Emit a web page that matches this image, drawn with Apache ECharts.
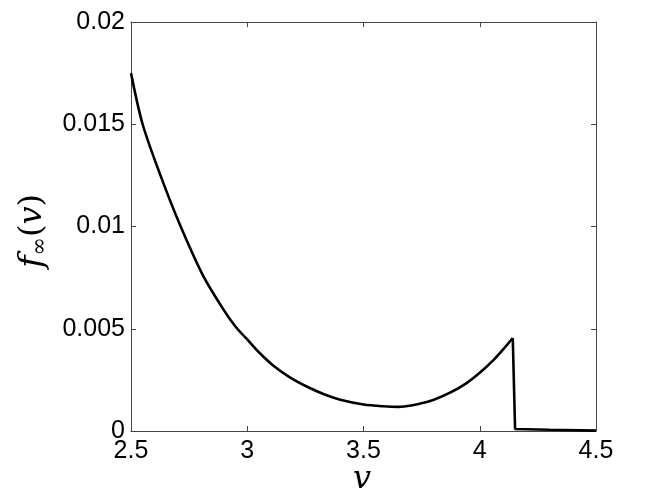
<!DOCTYPE html>
<html>
<head>
<meta charset="utf-8">
<script src="https://cdn.jsdelivr.net/npm/echarts@6/dist/echarts.min.js"></script>
<style>
html,body{margin:0;padding:0;background:#fff;}
#c{width:654px;height:502px;}
</style>
</head>
<body>
<div id="c"></div>
<script>
// branch 1: v from 2.5 to 3.0
const v1 = [2.50, 2.55, 2.63, 2.71, 2.81, 2.90, 2.95, 3.00];
const f1 = [0.0175, 0.0150, 0.0124, 0.0101, 0.0076, 0.0059, 0.0051, 0.00448];
// branch 2: v from 3.0 to the peak
const v2 = [3.00, 3.05, 3.11, 3.18, 3.26, 3.33, 3.40, 3.50, 3.585, 3.65, 3.74, 3.80, 3.87, 3.94, 4.00, 4.06, 4.10, 4.142];
const f2 = [0.00448, 0.00385, 0.00322, 0.00265, 0.00215, 0.0018, 0.00153, 0.00130, 0.00121, 0.00118, 0.00133, 0.00152, 0.00186, 0.00232, 0.00285, 0.00348, 0.00398, 0.00455];
// branch 3: drop and tail
const v3 = [4.142, 4.152, 4.30, 4.50];
const f3 = [0.00455, 0.0001, 0.00006, 0.00002];
const xTicks = ['2.5', '3', '3.5', '4', '4.5'];
const yTicks = ['0', '0.005', '0.01', '0.015', '0.02'];

const pairs = (vs, fs) => vs.map((v, i) => [v, fs[i]]);
const font = 'Liberation Sans, Arial, sans-serif';
const axisCol = '#444';
const chart = echarts.init(document.getElementById('c'));
const baseX = {
  type: 'value', min: 2.5, max: 4.5, interval: 0.5,
  axisLine: {show: true, onZero: false, lineStyle: {color: axisCol, width: 1}},
  axisTick: {show: true, inside: true, length: 5, lineStyle: {color: axisCol}},
  splitLine: {show: false}
};
const baseY = {
  type: 'value', min: 0, max: 0.02, interval: 0.005,
  axisLine: {show: true, onZero: false, lineStyle: {color: axisCol, width: 1}},
  axisTick: {show: true, inside: true, length: 5, lineStyle: {color: axisCol}},
  splitLine: {show: false}
};
const lineSeries = (d, smooth) => ({
  type: 'line', data: d, smooth: smooth, showSymbol: false, symbol: 'none',
  lineStyle: {color: '#000', width: 2.6}, xAxisIndex: 0, yAxisIndex: 0
});
chart.setOption({
  animation: false,
  backgroundColor: '#fff',
  grid: {left: 131, top: 22, right: 58, bottom: 71, containLabel: false},
  xAxis: [
    Object.assign({}, baseX, {position: 'bottom',
      axisLabel: {show: true, color: '#000', fontSize: 25, fontFamily: font, margin: 8,
        formatter: v => xTicks[Math.round((v - 2.5) / 0.5)]}}),
    Object.assign({}, baseX, {position: 'top', axisLabel: {show: false}})
  ],
  yAxis: [
    Object.assign({}, baseY, {position: 'left',
      axisLabel: {show: true, color: '#000', fontSize: 25, fontFamily: font, margin: 6,
        formatter: v => yTicks[Math.round(v / 0.005)]}}),
    Object.assign({}, baseY, {position: 'right', axisLabel: {show: false}})
  ],
  series: [
    lineSeries(pairs(v1, f1), 0.3),
    lineSeries(pairs(v2, f2), 0.3),
    lineSeries(pairs(v3, f3), false)
  ],
  graphic: [
    {type: 'text', left: 353, top: 464, style: {text: 'v', font: 'italic 32px "DejaVu Serif", serif', fill: '#000'}},
    {type: 'text', x: 15, y: 268, rotation: Math.PI / 2,
      style: {
        text: '{f|f}{s|∞}{p|(}{v|v}{p|)}',
        rich: {
          f: {font: 'italic 34px "DejaVu Serif", serif', fill: '#000'},
          s: {font: '22px "DejaVu Serif", serif', fill: '#000', padding: [14, 0, 0, 0]},
          p: {font: '32px "DejaVu Serif", serif', fill: '#000'},
          v: {font: 'italic 32px "DejaVu Serif", serif', fill: '#000'}
        }
      }}
  ]
});
</script>
</body>
</html>
